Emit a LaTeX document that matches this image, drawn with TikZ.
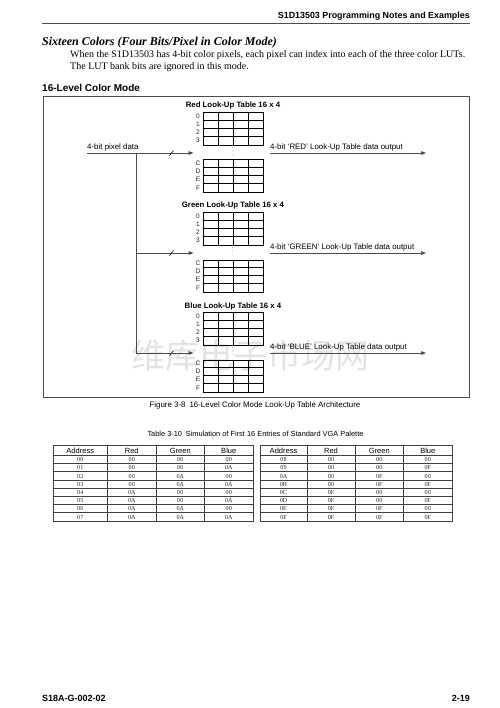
\documentclass[tikz,border=0pt]{standalone}
\usepackage{fontspec}
\setmainfont{Liberation Serif}
\setsansfont{Liberation Sans}
\newfontfamily\cjk{Noto Sans CJK SC}
\usetikzlibrary{arrows.meta}
\newcommand\lutgrid[2]{%
  \node[gridbox, anchor=north west] (#1) at (203.3,#2) {};
  \foreach \c in {1,2,3}
    \draw[gridline] ([xshift=15*\c pt]#1.north west) -- ([xshift=15*\c pt]#1.south west);
  \foreach \r in {1,2,3}
    \draw[gridline] ([yshift=-8.1*\r pt]#1.north west) -- ([yshift=-8.1*\r pt]#1.north east);
}
\begin{document}
\begin{tikzpicture}[x=1pt,y=-1pt,
  sfs/.style={font=\sffamily\fontsize{7.9}{9}\selectfont, inner sep=0},
  sfb/.style={font=\sffamily\bfseries\fontsize{7.8}{9}\selectfont, inner sep=0},
  lbl/.style={font=\sffamily\fontsize{6.5}{7}\selectfont, inner sep=0, text=black!85},
  gridbox/.style={draw, line width=0.75pt, minimum width=60pt, minimum height=32.4pt, inner sep=0},
  gridline/.style={line width=0.75pt},
  conn/.style={line width=0.7pt, draw=black!70},
  arr/.style={conn, -{Triangle[length=5pt,width=3.6pt]}},
  tline/.style={line width=0.85pt, draw=black!75},
  thd/.style={font=\sffamily\fontsize{7.5}{8}\selectfont, inner sep=0, anchor=base},
  tdat/.style={font=\fontsize{6.1}{7}\selectfont, inner sep=0, anchor=base, text=black!85},
]
\useasboundingbox (0,0) rectangle (499,708);

% header
\node[font=\sffamily\bfseries\fontsize{8.9}{10}\selectfont, inner sep=0, anchor=base east] (hdr) at (470,19) {S1D13503 Programming Notes and Examples};
\draw[line width=0.9pt, draw=black!70] (42,23.5) -- (470,23.5);

% title and body
\node[font=\bfseries\itshape\fontsize{12}{13}\selectfont, inner sep=0, anchor=base west] (title) at (42,45.5) {Sixteen Colors (Four Bits/Pixel in Color Mode)};
\node[font=\fontsize{10}{11}\selectfont, inner sep=0, anchor=base west] (body1) at (70,57.5) {When the S1D13503 has 4-bit color pixels, each pixel can index into each of the three color LUTs.};
\node[font=\fontsize{10}{11}\selectfont, inner sep=0, anchor=base west] (body2) at (70,70) {The LUT bank bits are ignored in this mode.};
\node[font=\sffamily\bfseries\fontsize{10}{11}\selectfont, inner sep=0, anchor=base west] (sect) at (42,91.2) {16-Level Color Mode};

% frame
\draw[line width=0.9pt, draw=black!70] (43,96.5) rectangle (469.5,397);

% watermark
\node[font=\cjk\fontsize{34}{34}\selectfont, text=black!11, inner sep=0] (wm) at (250,356) {维库电子市场网};

% LUTs
\foreach \k/\nm/\ttl/\out in {0/r/Red/RED, 1/g/Green/GREEN, 2/b/Blue/BLUE} {
  \pgfmathsetmacro\oy{100*\k}
  \node[sfb, anchor=base] (\nm-title) at (233,108+\oy) {\ttl\ Look-Up Table 16 x 4};
  \lutgrid{\nm-top}{112.3+\oy}
  \lutgrid{\nm-bot}{159.5+\oy}
  \foreach \r/\t in {0/0,1/1,2/2,3/3}
    \node[lbl] (\nm-l\t) at (198,116.35+\oy+8.1*\r) {\t};
  \foreach \r/\t in {0/C,1/D,2/E,3/F}
    \node[lbl] (\nm-l\t) at (198,163.55+\oy+8.1*\r) {\t};
  \node[lbl, font=\sffamily\fontsize{6}{6}\selectfont] (\nm-dots) at (233,151.5+\oy) {\rotatebox{90}{$\cdots$}};
  \coordinate (\nm-in) at (193.5,153+\oy);
  \coordinate (\nm-os) at (270,153+\oy);
  \coordinate (\nm-oe) at (426,153+\oy);
  \draw[arr] (\nm-os) -- (\nm-oe);
  \node[sfs, anchor=base west] (\nm-otxt) at (270,149.6+\oy) {4-bit `\out' Look-Up Table data output};
  \draw[line width=0.6pt] (169.5,155.6+\oy) -- (173.5,150.6+\oy);
}

% input
\coordinate (src) at (87,153);
\coordinate (br1) at (136,153);
\coordinate (br2) at (136,253);
\coordinate (br3) at (136,353);
\node[sfs, anchor=base west] (intxt) at (87,149.6) {4-bit pixel data};
\draw[arr] (src) -- (r-in);
\draw[conn] (br1) -- (br3);
\draw[arr] (br2) -- (g-in);
\draw[arr] (br3) -- (b-in);

% figure caption
\node[font=\sffamily\fontsize{7.9}{9}\selectfont, inner sep=0, anchor=base] (figcap) at (255,407) {Figure 3-8\enspace 16-Level Color Mode Look-Up Table Architecture};

% table caption
\node[font=\sffamily\fontsize{7.4}{9}\selectfont, inner sep=0, anchor=base] (tabcap) at (255.5,436) {Table 3-10\enspace Simulation of First 16 Entries of Standard VGA Palette};

% tables
\foreach \side/\xa/\xb/\xc/\xd/\xe in {L/53/107.5/156/204.5/253, R/260/307/355/403.5/452} {
  \draw[tline] (\xa,445) rectangle (\xe,521.1);
  \foreach \xx in {\xb,\xc,\xd} \draw[tline] (\xx,445) -- (\xx,521.1);
  \draw[tline] (\xa,455.5) -- (\xe,455.5);
  \foreach \i in {1,...,7} \draw[tline] (\xa,455.5+8.2*\i) -- (\xe,455.5+8.2*\i);
  \node[thd] (\side-hA) at ({(\xa+\xb)/2},453) {Address};
  \node[thd] (\side-hR) at ({(\xb+\xc)/2},453) {Red};
  \node[thd] (\side-hG) at ({(\xc+\xd)/2},453) {Green};
  \node[thd] (\side-hB) at ({(\xd+\xe)/2},453) {Blue};
}
\foreach [count=\i] \a/\r/\g/\b in {00/00/00/00, 01/00/00/0A, 02/00/0A/00, 03/00/0A/0A, 04/0A/00/00, 05/0A/00/0A, 06/0A/0A/00, 07/0A/0A/0A} {
  \node[tdat] (L-a\i) at (80.25,455.5+8.2*\i-2.1) {\a};
  \node[tdat] (L-r\i) at (131.75,455.5+8.2*\i-2.1) {\r};
  \node[tdat] (L-g\i) at (180.25,455.5+8.2*\i-2.1) {\g};
  \node[tdat] (L-b\i) at (228.75,455.5+8.2*\i-2.1) {\b};
}
\foreach [count=\i] \a/\r/\g/\b in {08/00/00/00, 09/00/00/0F, 0A/00/0F/00, 0B/00/0F/0F, 0C/0F/00/00, 0D/0F/00/0F, 0E/0F/0F/00, 0F/0F/0F/0F} {
  \node[tdat] (R-a\i) at (283.5,455.5+8.2*\i-2.1) {\a};
  \node[tdat] (R-r\i) at (331,455.5+8.2*\i-2.1) {\r};
  \node[tdat] (R-g\i) at (379.25,455.5+8.2*\i-2.1) {\g};
  \node[tdat] (R-b\i) at (427.75,455.5+8.2*\i-2.1) {\b};
}

% footer
\node[font=\sffamily\bfseries\fontsize{9}{10}\selectfont, inner sep=0, anchor=base west] (foot1) at (42,701) {S18A-G-002-02};
\node[font=\sffamily\bfseries\fontsize{9}{10}\selectfont, inner sep=0, anchor=base east] (foot2) at (470,701) {2-19};
\end{tikzpicture}
\end{document}
